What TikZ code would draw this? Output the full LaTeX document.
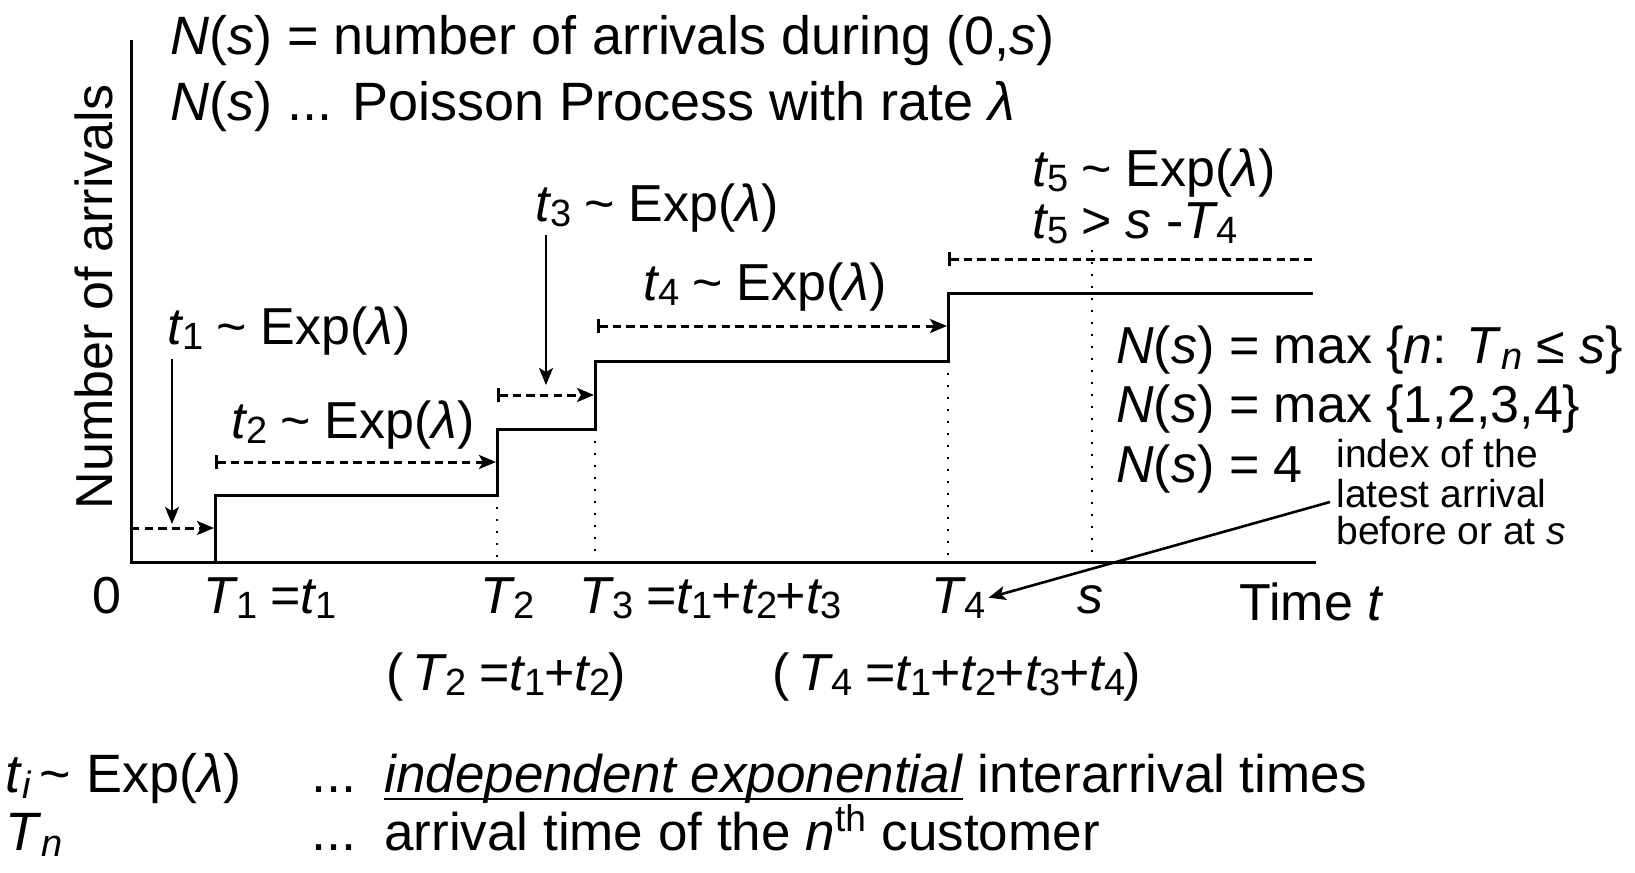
\documentclass[tikz,border=0pt]{standalone}
\usepackage{fontspec}
\setmainfont{Liberation Sans}
\usetikzlibrary{arrows.meta}
\newcommand\sbx[1]{\kern-0.8pt\relax\raisebox{-0.1em}{\fontsize{19}{19}\selectfont #1}\kern-0.8pt\relax}
\newcommand\sbi[1]{\raisebox{-0.12em}{\fontsize{19}{19}\selectfont\itshape #1}}
\newcommand\tl{\textasciitilde}
\newcommand\myul[1]{\setbox0\hbox{#1}\rlap{\rule[-0.15em]{\wd0}{1.1pt}}\box0\relax}
\begin{document}
\begin{tikzpicture}[x=0.5pt,y=-0.5pt,
  txt/.style={inner sep=0pt,anchor=base west,font=\fontsize{26}{31}\selectfont},
  bigtxt/.style={inner sep=0pt,anchor=base west,font=\fontsize{27}{32}\selectfont},
  legtxt/.style={inner sep=0pt,anchor=base west,font=\fontsize{26.5}{32}\selectfont},
  smalltxt/.style={inner sep=0pt,anchor=base west,font=\fontsize{19.5}{20}\selectfont},
  axisline/.style={line width=1.5pt},
  stepline/.style={line width=1.5pt,line join=miter},
  dashbase/.style={line width=1.5pt,dash pattern=on 4.2pt off 2.6pt},
  headtip/.tip={Stealth[length=8.5pt,width=7pt,inset=2pt]},
  bartip/.tip={Bar[width=7pt,line width=1.4pt]},
  dasharrow/.style={dashbase,bartip-headtip},
  dotline/.style={line width=1.2pt,dash pattern=on 1.2pt off 4.8pt},
  downarrow/.style={line width=1.3pt,-headtip}]
\useasboundingbox (0,0) rectangle (1635,873);
% axes
\coordinate (O) at (131,562);
\coordinate (ytop) at (131,40);
\coordinate (xend) at (1316,562);
\draw[axisline] (ytop) -- (O) -- (xend);
% step function
\coordinate (s0) at (215,562);
\coordinate (s1) at (215,495);
\coordinate (s2) at (497,495);
\coordinate (s3) at (497,429);
\coordinate (s4) at (595,429);
\coordinate (s5) at (595,361);
\coordinate (s6) at (948,361);
\coordinate (s7) at (948,293);
\coordinate (s8) at (1313,293);
\draw[stepline] (s0) -- (s1) -- (s2) -- (s3) -- (s4) -- (s5) -- (s6) -- (s7) -- (s8);
% dotted verticals
\coordinate (d2) at (497,562);
\coordinate (d3) at (595,562);
\coordinate (d4) at (948,562);
\coordinate (dsT) at (1092,250);
\coordinate (dsB) at (1092,562);
\draw[dotline] (s2) -- (d2);
\draw[dotline] (s4) -- (d3);
\draw[dotline] (s6) -- (d4);
\draw[dotline] (dsT) -- (dsB);
% interval arrows
\coordinate (a1s) at (131,528); \coordinate (a1e) at (214,528);
\coordinate (a2s) at (215,462); \coordinate (a2e) at (496,462);
\coordinate (a3s) at (497,395); \coordinate (a3e) at (594,395);
\coordinate (a4s) at (597,326); \coordinate (a4e) at (947,326);
\coordinate (a5s) at (948,259); \coordinate (a5e) at (1313,259);
\draw[dashbase,-headtip] (a1s) -- (a1e);
\draw[dasharrow] (a2s) -- (a2e);
\draw[dasharrow] (a3s) -- (a3e);
\draw[dasharrow] (a4s) -- (a4e);
\draw[dashbase,bartip-] (a5s) -- (a5e);
% down arrows
\coordinate (v1s) at (172,359); \coordinate (v1e) at (172,524);
\coordinate (v3s) at (546,235); \coordinate (v3e) at (546,385);
\draw[downarrow] (v1s) -- (v1e);
\draw[downarrow] (v3s) -- (v3e);
% header
\node[bigtxt] (h1) at (170,54) {\textit{N}(\textit{s}) = number of arrivals during (0,\textit{s})};
\node[bigtxt] (h2) at (170,120) {\textit{N}(\textit{s}) ... Poisson Process with rate \textit{λ}};
% y label
\node[inner sep=0pt,font=\fontsize{26}{31}\selectfont,rotate=90] (ylab) at (94,297) {Number of arrivals};
% interval labels
\node[txt] (e1) at (167,344) {\textit{t}\sbx{1} \tl{} Exp(\textit{λ})};
\node[txt] (e2) at (231,438) {\textit{t}\sbx{2} \tl{} Exp(\textit{λ})};
\node[txt] (e3) at (535,221) {\textit{t}\sbx{3} \tl{} Exp(\textit{λ})};
\node[txt] (e4) at (643,300) {\textit{t}\sbx{4} \tl{} Exp(\textit{λ})};
\node[txt] (e5) at (1032,186) {\textit{t}\sbx{5} \tl{} Exp(\textit{λ})};
\node[txt] (e5b) at (1032,238) {\textit{t}\sbx{5} > \textit{s} -\textit{T}\sbx{4}};
% N(s) formulas
\node[txt] (m1) at (1116,363) {\textit{N}(\textit{s}) = max \{\textit{n}: \textit{T}\sbi{n} ≤ \textit{s}\}};
\node[txt] (m2) at (1116,422) {\textit{N}(\textit{s}) = max \{1,2,3,4\}};
\node[txt] (m3) at (1116,482) {\textit{N}(\textit{s}) = 4};
\node[smalltxt] (i1) at (1336,467) {index of the};
\node[smalltxt] (i2) at (1336,507) {latest arrival};
\node[smalltxt] (i3) at (1336,544) {before or at \textit{s}};
% axis labels
\node[txt,anchor=base] (zero) at (107,613) {0};
\node[txt] (T1) at (203,613) {\textit{T}\sbx{1} =\textit{t}\sbx{1}};
\node[txt] (T2) at (480,613) {\textit{T}\sbx{2}};
\node[txt] (T3) at (579,613) {\textit{T}\sbx{3} =\textit{t}\sbx{1}+\textit{t}\sbx{2}+\textit{t}\sbx{3}};
\node[txt] (T4) at (931,613) {\textit{T}\sbx{4}};
\node[txt,anchor=base] (sl) at (1090,613) {\textit{s}};
\node[txt] (time) at (1239,620) {Time \textit{t}};
\node[txt] (T2e) at (386,690) {(\,\textit{T}\sbx{2} =\textit{t}\sbx{1}+\textit{t}\sbx{2})};
\node[txt] (T4e) at (772,690) {(\,\textit{T}\sbx{4} =\textit{t}\sbx{1}+\textit{t}\sbx{2}+\textit{t}\sbx{3}+\textit{t}\sbx{4})};
% pointer
\coordinate (ptr) at (1330,502);
\draw[line width=1.3pt,-headtip] (ptr) -- ([xshift=2pt]T4.east);
% bottom legend
\node[bigtxt] (b1) at (5,792) {\textit{t}\sbi{i}\,\tl{} Exp(\textit{λ})};
\node[bigtxt] (b1d) at (311,792) {...};
\node[legtxt] (b1t) at (384,792) {\myul{\textit{independent exponential}} interarrival times};
\node[bigtxt] (b2) at (5,850) {\textit{T}\sbi{n}};
\node[bigtxt] (b2d) at (311,850) {...};
\node[legtxt] (b2t) at (384,850) {arrival time of the \textit{n}\textsuperscript{th} customer};
\end{tikzpicture}
\end{document}
